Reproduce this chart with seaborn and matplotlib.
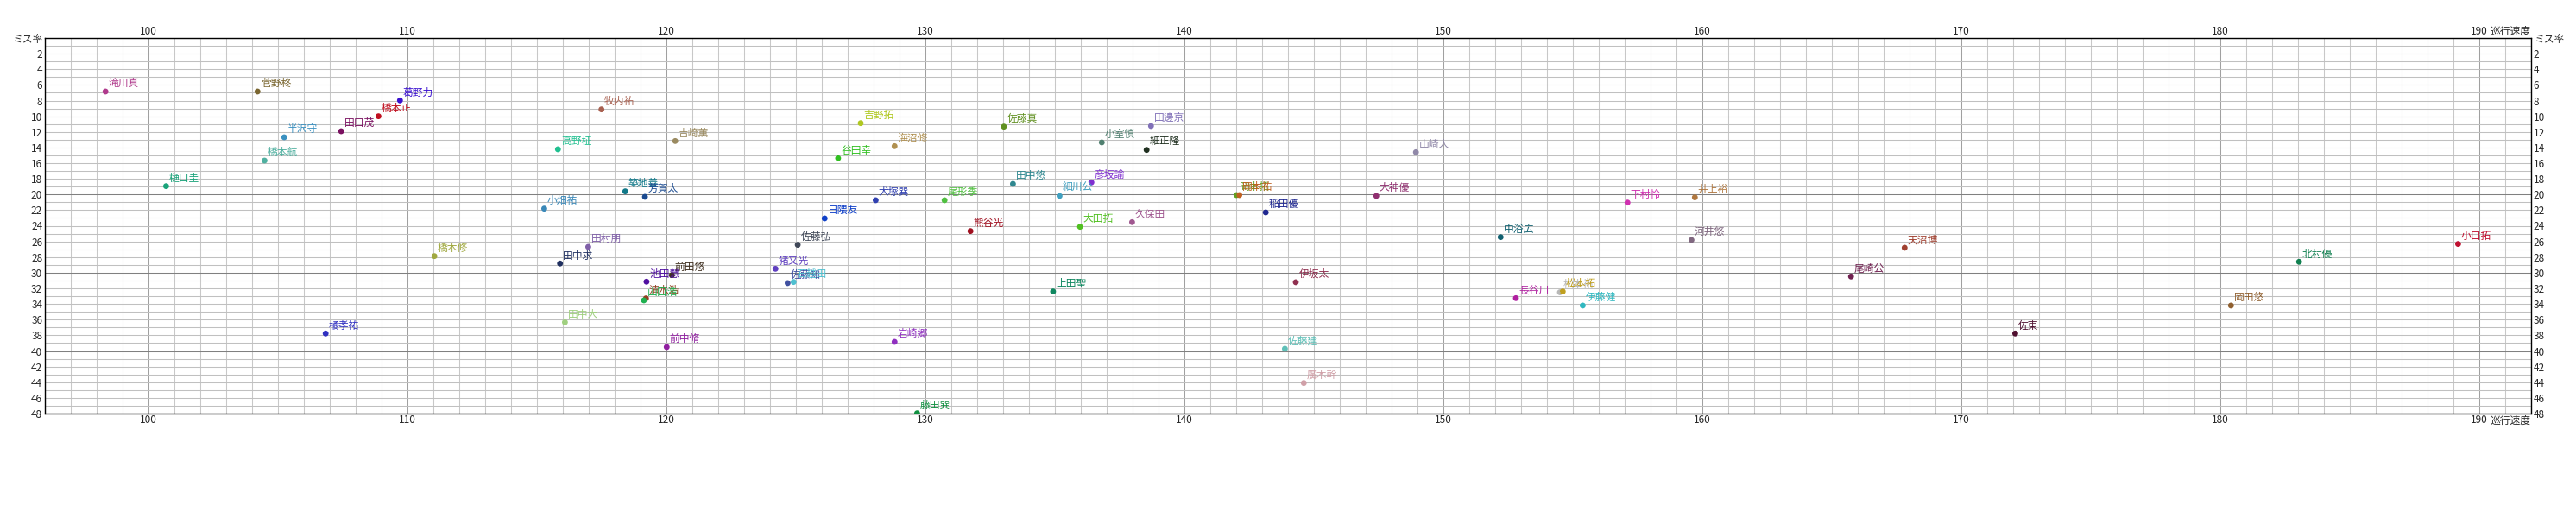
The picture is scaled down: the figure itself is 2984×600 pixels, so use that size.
import pandas as pd
import matplotlib.pyplot as plt
import seaborn as sns
import numpy as np

# typing players: speed (巡行速度) vs miss rate (ミス率)
names = [
    "滝川真", "樋口圭", "菅野柊", "葛野力", "橋本正", "田口茂", "半沢守", "橋本航", "橘孝祐",
    "牧内祐", "高野柾", "築地善", "芳賀太", "小畑祐", "田村朋", "田中求", "橋本修", "田中大",
    "池田慧", "前田悠", "清水浩", "山口浩", "吉崎薫", "前中脩", "佐藤弘", "猪又光", "佐藤知",
    "石越田", "日隈友", "谷田幸", "吉野拓", "海沼修", "犬塚巽", "尾形季", "熊谷光", "岩崎郷",
    "藤田巽", "佐藤真", "田中悠", "細川公", "上田聖", "大田拓", "彦坂諭", "小室慎", "田邊京",
    "細正隆", "久保田", "岡本拓", "岡本祐", "稲田優", "佐藤建", "伊坂太", "廣木幹", "大神優",
    "山崎大", "中浴広", "長谷川", "松本祐", "松本拓", "伊藤健", "下村怜", "井上裕", "河井悠",
    "尾崎公", "天沼博", "佐東一", "北村優", "岡田悠", "小口拓",
]
speed = [
    98.34, 100.68, 104.21, 109.71, 108.88, 107.44, 105.24, 104.48, 106.84,
    117.49, 115.81, 118.41, 119.17, 115.28, 116.98, 115.89, 111.04, 116.08,
    119.23, 120.21, 119.21, 119.13, 120.34, 120.01, 125.07, 124.21, 124.68,
    124.91, 126.11, 126.63, 127.50, 128.81, 128.08, 130.74, 131.74, 128.81,
    129.68, 133.03, 133.38, 135.18, 134.93, 135.97, 136.41, 136.81, 138.71,
    138.54, 137.98, 142.01, 142.12, 143.14, 143.88, 144.30, 144.61, 147.41,
    148.94, 152.21, 152.80, 154.50, 154.61, 155.38, 157.11, 159.71, 159.58,
    165.74, 167.81, 172.08, 183.04, 180.41, 189.18,
]
miss = [
    6.84, 18.94, 6.84, 7.98, 10.00, 11.92, 12.69, 15.67, 37.77,
    9.12, 14.23, 19.60, 20.30, 21.81, 26.70, 28.83, 27.88, 36.34,
    31.15, 30.31, 33.28, 33.54, 13.17, 39.50, 26.44, 29.50, 31.33,
    31.19, 23.06, 15.37, 10.89, 13.83, 20.74, 20.74, 24.68, 38.84,
    47.96, 11.33, 18.65, 20.19, 32.40, 24.13, 18.46, 13.35, 11.25,
    14.31, 23.54, 20.08, 20.08, 22.29, 39.72, 31.22, 44.10, 20.19,
    14.60, 25.45, 33.25, 32.50, 32.40, 34.20, 21.04, 20.37, 25.82,
    30.49, 26.81, 37.77, 28.61, 34.20, 26.33,
]
colors = [
    "#b03a8c", "#1aa37a", "#7a6630", "#3a10d0", "#c01020", "#7a1060", "#3a90c0", "#50b0a0", "#3030c0",
    "#a86050", "#20c090", "#107888", "#1a4a90", "#3a88b8", "#8060a8", "#203060", "#a0a840", "#a0d080",
    "#5010a0", "#403020", "#904020", "#20b050", "#9a8a60", "#9020a0", "#404858", "#6040c0", "#4050a0",
    "#50c0d0", "#1040c8", "#30c020", "#b0c820", "#b09050", "#3040b0", "#50c040", "#a01020", "#9030c0",
    "#109040", "#609020", "#308890", "#40a0c0", "#108860", "#50c020", "#8030d0", "#508070", "#8070b8",
    "#203020", "#a05890", "#60a020", "#c06020", "#202890", "#60c0b8", "#903050", "#d0a0a8", "#903070",
    "#9088a8", "#106070", "#b020a0", "#b8b8b8", "#c0a020", "#30b8c0", "#d030b0", "#b07840", "#806880",
    "#702050", "#a04030", "#501030", "#108050", "#906030", "#c01030",
]

x_ticks = list(range(100, 191, 10))
y_ticks = list(range(0, 49, 2))

df = pd.DataFrame({"name": names, "speed": speed, "miss": miss})
palette = dict(zip(names, colors))

sns.set_style("white")
plt.rcParams["font.family"] = ["Noto Sans CJK JP", "DejaVu Sans"]

fig = plt.figure(figsize=(29.84, 6), dpi=100)
ax = fig.add_axes([52 / 2984, 121 / 600, 2880 / 2984, 435 / 600])

# grid: every unit light, every ten darker
for v in range(96, 193):
    ax.axvline(v, color="#a0a0a0" if v % 10 == 0 else "#c8c8c8", lw=0.75, zorder=0)
for v in range(0, 49):
    ax.axhline(v, color="#808080" if v % 10 == 0 else "#c0c0c0", lw=0.75, zorder=0)

sns.scatterplot(data=df, x="speed", y="miss", hue="name", palette=palette,
                s=24, linewidth=0, legend=False, ax=ax, zorder=3)

for n, xv, yv, c in zip(names, speed, miss, colors):
    ax.annotate(n, (xv, yv), xytext=(2.5, 2), textcoords="offset points",
                fontsize=8.5, color=c, ha="left", va="bottom", zorder=4,
                arrowprops=dict(arrowstyle="-", color=c, lw=0.7, shrinkA=0, shrinkB=0))

ax.set_xlim(96, 192)
ax.set_ylim(48, 0)
ax.set_xlabel("")
ax.set_ylabel("")

ax.set_xticks(x_ticks)
ax.set_xticklabels([str(t) for t in x_ticks])
ax.set_yticks(y_ticks)
ax.set_yticklabels(["ミス率"] + [str(t) for t in y_ticks[1:]])
ax.tick_params(axis="x", which="both", length=0, pad=1, labelsize=8.5,
               top=True, labeltop=True, bottom=True, labelbottom=True)
ax.tick_params(axis="y", which="both", length=0, pad=2, labelsize=8.5,
               left=True, labelleft=True, right=True, labelright=True)

# axis title next to the last x tick, top and bottom
for yy, va, dy in [(0, "bottom", 1), (48, "top", -1)]:
    ax.annotate("巡行速度", (190, yy), xytext=(9, dy), textcoords="offset points",
                fontsize=8.5, ha="left", va=va, annotation_clip=False)

for sp in ax.spines.values():
    sp.set_color("black")
    sp.set_linewidth(1)

plt.savefig("out.png", dpi=100)
